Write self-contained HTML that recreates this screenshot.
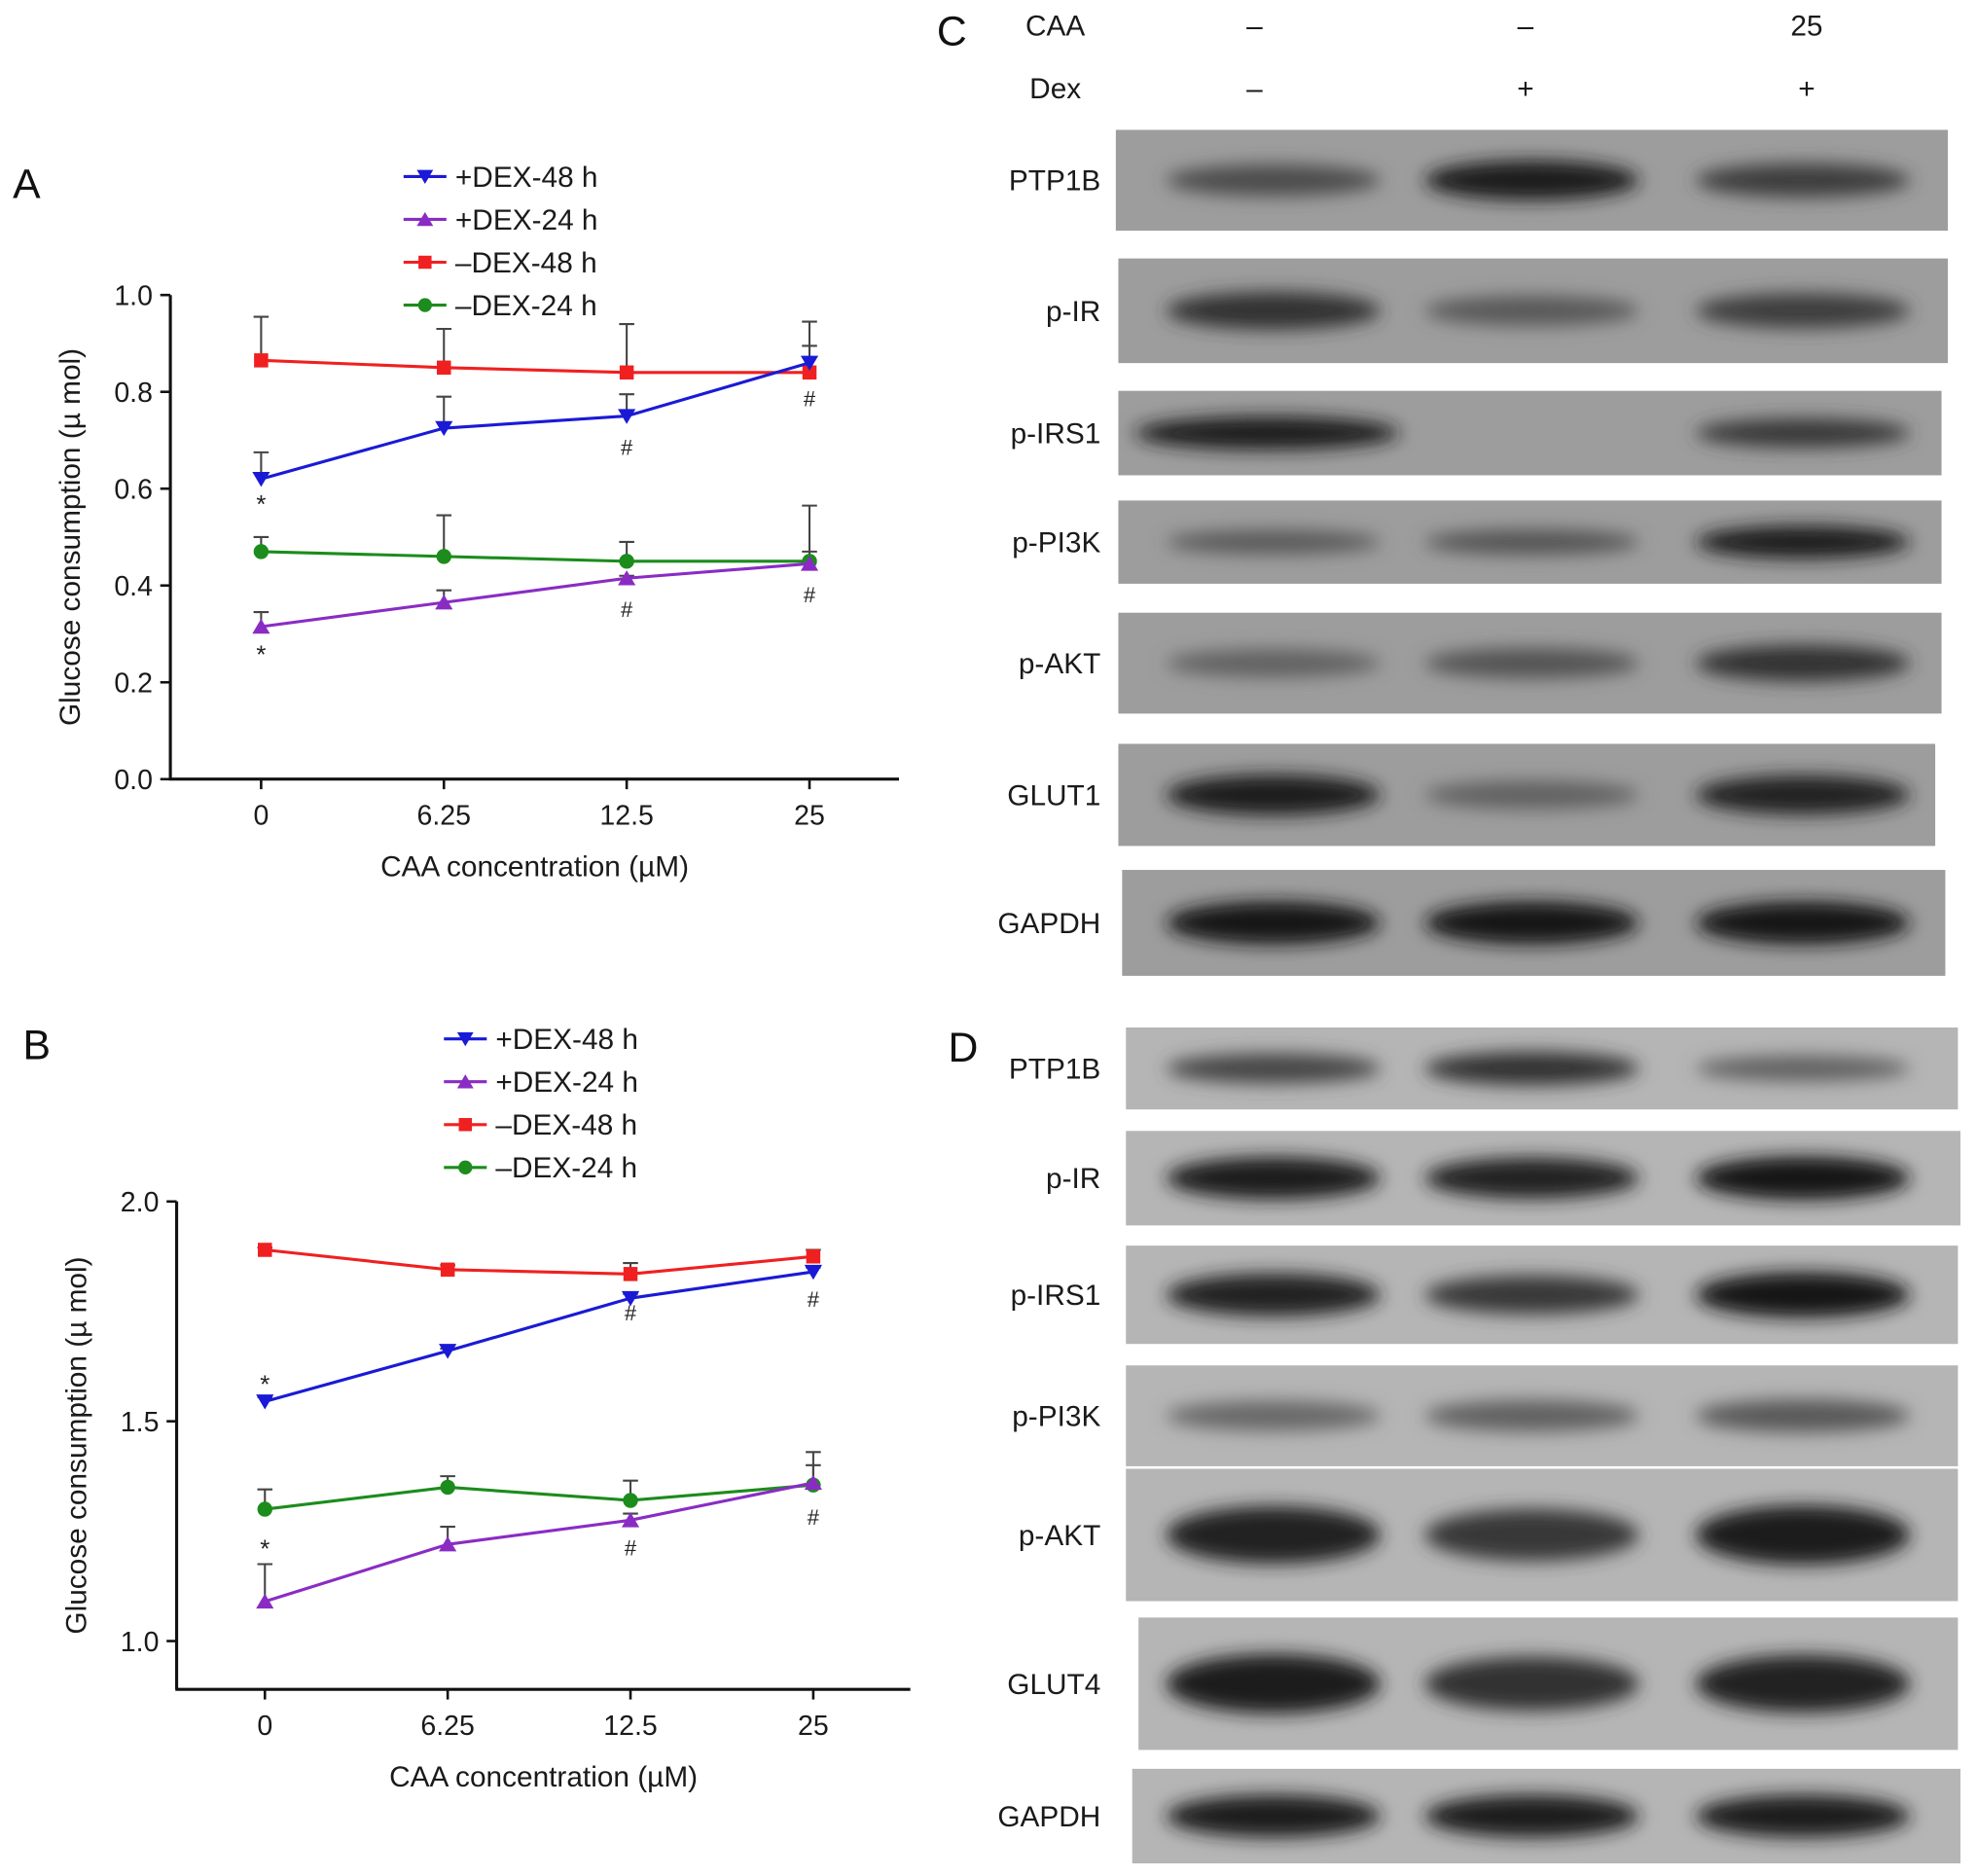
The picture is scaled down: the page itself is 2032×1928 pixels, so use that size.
<!DOCTYPE html>
<html><head><meta charset="utf-8">
<style>
html,body{margin:0;padding:0;background:#fff;}
svg{display:block;font-family:"Liberation Sans",Arial,sans-serif;}
</style></head>
<body>
<svg id="fig" width="2032" height="1928" viewBox="0 0 1568 1488" xmlns="http://www.w3.org/2000/svg">
<defs>
<filter id="blur" x="-30%" y="-100%" width="160%" height="300%"><feGaussianBlur stdDeviation="7"/></filter>
</defs>
<g id="chartA"></g>
<g id="chartB"></g>
<g id="blotC"></g>
<g id="blotD"></g>
</svg>
<script>
const NS="http://www.w3.org/2000/svg";
const categories=["0","6.25","12.5","25"];
const seriesNames=["+DEX-48 h","+DEX-24 h","\u2013DEX-48 h","\u2013DEX-24 h"];
const seriesColors=["#1a1ad6","#8a2cc4","#f02020","#1c8c1c"];
const seriesMarkers=["tri-down","tri-up","square","circle"];
// Panel A values
const aPlus48=[0.62,0.725,0.75,0.86];
const aPlus48Err=[0.675,0.79,0.795,0.895];
const aPlus24=[0.315,0.365,0.415,0.445];
const aPlus24Err=[0.345,0.39,0.42,0.47];
const aMinus48=[0.865,0.85,0.84,0.84];
const aMinus48Err=[0.955,0.93,0.94,0.945];
const aMinus24=[0.47,0.46,0.45,0.45];
const aMinus24Err=[0.5,0.545,0.49,0.565];
const aTicks=[0.0,0.2,0.4,0.6,0.8,1.0];
// Panel B values
const bPlus48=[1.545,1.66,1.78,1.84];
const bPlus48Err=[1.555,1.665,1.79,1.85];
const bPlus24=[1.09,1.22,1.275,1.36];
const bPlus24Err=[1.175,1.26,1.29,1.40];
const bMinus48=[1.89,1.845,1.835,1.875];
const bMinus48Err=[1.895,1.855,1.86,1.89];
const bMinus24=[1.30,1.35,1.32,1.355];
const bMinus24Err=[1.345,1.375,1.365,1.43];
const bTicks=[1.0,1.5,2.0];

function el(tag,attrs,parent,text){
  const e=document.createElementNS(NS,tag);
  for(const k in attrs)e.setAttribute(k,attrs[k]);
  if(text!==undefined)e.textContent=text;
  parent.appendChild(e);return e;
}
function marker(g,type,x,y,color,s){
  let m;
  if(type==="tri-down")m=el("polygon",{points:`${x-s},${y-s*0.8} ${x+s},${y-s*0.8} ${x},${y+s*0.9}`,fill:color},g);
  else if(type==="tri-up")m=el("polygon",{points:`${x-s},${y+s*0.8} ${x+s},${y+s*0.8} ${x},${y-s*0.9}`,fill:color},g);
  else if(type==="square")m=el("rect",{x:x-s*0.8,y:y-s*0.8,width:s*1.6,height:s*1.6,fill:color},g);
  else m=el("circle",{cx:x,cy:y,r:s*0.85,fill:color},g);
  return m;
}
function drawChart(g,cfg){
  const {x0,x1,yTop,yBot,vTop,vBot,tickX,ticks,series,errs,legX,legY,letter,letterPos,stars}=cfg;
  const ys=v=>yBot-(v-vBot)/(vTop-vBot)*(yBot-yTop);
  const xs=i=>tickX[0]+i*(tickX[1]-tickX[0]);
  const lt=el("text",{x:letterPos[0],y:letterPos[1],"font-size":33,fill:"#111"},g,letter);
  
  
  const ya=el("line",{x1:x0,y1:yTop,x2:x0,y2:yBot,stroke:"#111","stroke-width":2.4},g);
  
  
  const xa=el("line",{x1:x0-1,y1:yBot,x2:x1,y2:yBot,stroke:"#111","stroke-width":2.4},g);
  
  
  ticks.forEach(t=>{
    const y=ys(t);
    el("line",{x1:x0-8,y1:y,x2:x0,y2:y,stroke:"#111","stroke-width":2},g);
    const tl=el("text",{x:x0-14,y:y+8,"font-size":22,"text-anchor":"end",fill:"#1a1a1a"},g,t.toFixed(1));
    
    
  });
  categories.forEach((c,i)=>{
    const x=xs(i);
    el("line",{x1:x,y1:yBot,x2:x,y2:yBot+8,stroke:"#111","stroke-width":2},g);
    const tl=el("text",{x:x,y:yBot+36,"font-size":22,"text-anchor":"middle",fill:"#1a1a1a"},g,c);
    
    
  });
  const xt=el("text",{x:(x0+x1)/2,y:yBot+77,"font-size":23,"text-anchor":"middle",fill:"#1a1a1a"},g,"CAA concentration (\u00b5M)");
  
  
  const yt=el("text",{transform:`translate(${x0-72},${(yTop+yBot)/2}) rotate(-90)`,"font-size":23,"text-anchor":"middle",fill:"#1a1a1a"},g,"Glucose consumption (\u00b5 mol)");
  
  
  series.forEach((s,si)=>{
    s.forEach((v,i)=>{
      const x=xs(i),y=ys(v),ye=ys(errs[si][i]);
      const eb=el("path",{d:`M${x},${y}V${ye}M${x-6},${ye}H${x+6}`,stroke:"#444","stroke-width":1.6,fill:"none"},g);
      
      
    });
  });
  [3,2,1,0].forEach(si=>{
    const s=series[si];
    const pl=el("polyline",{points:s.map((v,i)=>`${xs(i)},${ys(v)}`).join(" "),fill:"none",stroke:seriesColors[si],"stroke-width":2.4},g);
    
    
    s.forEach((v,i)=>{
      const m=marker(g,seriesMarkers[si],xs(i),ys(v),seriesColors[si],7);
      
      
    });
  });
  stars.forEach(st=>{
    const a=el("text",{x:xs(st[0]),y:ys(st[1]),"font-size":st[2]==="*"?20:17,"text-anchor":"middle",fill:"#222"},g,st[2]);
    
    
  });
  seriesNames.forEach((n,i)=>{
    const y=legY+i*cfg.legDy;
    const lg=el("g",{},g);
    
    
    el("line",{x1:legX,y1:y,x2:legX+34,y2:y,stroke:seriesColors[i],"stroke-width":2.4},lg);
    marker(lg,seriesMarkers[i],legX+17,y,seriesColors[i],6.5);
    el("text",{x:legX+41,y:y+8,"font-size":23,fill:"#1a1a1a"},lg,n);
  });
}
drawChart(document.getElementById("chartA"),{
  x0:135,x1:713,yTop:234,yBot:618,vTop:1.0,vBot:0.0,tickX:[207,352],ticks:aTicks,
  series:[aPlus48,aPlus24,aMinus48,aMinus24],errs:[aPlus48Err,aPlus24Err,aMinus48Err,aMinus24Err],
  legX:320,legY:140,legDy:34,letter:"A",letterPos:[10,157],
  stars:[[0,0.55,"*"],[0,0.24,"*"],[2,0.67,"#"],[3,0.77,"#"],[2,0.335,"#"],[3,0.365,"#"]]
});
drawChart(document.getElementById("chartB"),{
  x0:140,x1:722,yTop:953,yBot:1340,vTop:2.0,vBot:0.89,tickX:[210,355],ticks:bTicks,
  series:[bPlus48,bPlus24,bMinus48,bMinus24],errs:[bPlus48Err,bPlus24Err,bMinus48Err,bMinus24Err],
  legX:352,legY:824,legDy:34,letter:"B",letterPos:[18,840],
  stars:[[0,1.565,"*"],[0,1.19,"*"],[2,1.73,"#"],[3,1.76,"#"],[2,1.195,"#"],[3,1.265,"#"]]
});

const lanesX=[1000,1215,1430];
const blotCNames=["PTP1B","p-IR","p-IRS1","p-PI3K","p-AKT","GLUT1","GAPDH"];
const blotCBoxes=[[885,103,1545,183],[887,205,1545,288],[887,310,1540,377],[887,397,1540,463],[887,486,1540,566],[887,590,1535,671],[890,690,1543,774]];
const blotCInt=[[0.55,0.9,0.65],[0.75,0.45,0.65],[0.9,0.0,0.7],[0.45,0.5,0.9],[0.4,0.5,0.75],[0.9,0.4,0.85],[0.95,0.95,0.95]];
const blotDNames=["PTP1B","p-IR","p-IRS1","p-PI3K","p-AKT","GLUT4","GAPDH"];
const blotDBoxes=[[893,815,1553,880],[893,897,1555,972],[893,988,1553,1066],[893,1083,1553,1163],[893,1165,1553,1270],[903,1283,1553,1388],[898,1403,1555,1478]];
const blotDInt=[[0.6,0.75,0.4],[0.9,0.85,0.95],[0.85,0.7,0.95],[0.35,0.4,0.45],[0.85,0.7,0.9],[0.9,0.75,0.85],[0.9,0.9,0.9]];

function drawBlot(g,names,boxes,ints,bg,thick){
  names.forEach((n,i)=>{
    const [x1,y1,x2,y2]=boxes[i];
    const strip=el("g",{},g);
    
    
    el("rect",{x:x1,y:y1,width:x2-x1,height:y2-y1,fill:bg},strip);
    const cy=(y1+y2)/2;
    const h=(y2-y1);
    ints[i].forEach((v,li)=>{
      if(v<=0.02)return;
      const gray=Math.round(150-135*v);
      const wide=n==="p-IRS1"&&li===0&&g.id==="blotC";
      const rx=wide?105:85;
      const cx=wide?lanesX[li]+5:lanesX[li]+(li===0?10:0);
      const b=el("ellipse",{cx:cx,cy:cy,rx:rx,ry:Math.max(6,h*thick*(0.3+0.4*v)),fill:`rgb(${gray},${gray},${gray})`,filter:"url(#blur)"},strip);
      
      
    });
    const lb=el("text",{x:873,y:cy+8,"font-size":23,"text-anchor":"end",fill:"#1a1a1a"},g,n);
    
    
  });
}
drawBlot(document.getElementById("blotC"),blotCNames,blotCBoxes,blotCInt,"#9d9d9d",0.3);
drawBlot(document.getElementById("blotD"),blotDNames,blotDBoxes,blotDInt,"#b5b5b5",0.34);

(function(){
  const g=document.getElementById("blotC");
  const c=el("text",{x:743,y:36,"font-size":33,fill:"#111"},g,"C");
  
  
  const hdr=[["CAA",["\u2013","\u2013","25"],28],["Dex",["\u2013","+","+"],78]];
  hdr.forEach(h=>{
    const t=el("text",{x:837,y:h[2],"font-size":23,"text-anchor":"middle",fill:"#1a1a1a"},g,h[0]);
    
    
    h[1].forEach((s,i)=>{
      const tx=[995,1210,1433][i];
      const tt=el("text",{x:tx,y:h[2],"font-size":23,"text-anchor":"middle",fill:"#1a1a1a"},g,s);
      
      
    });
  });
  const gd=document.getElementById("blotD");
  const d=el("text",{x:752,y:842,"font-size":33,fill:"#111"},gd,"D");
  
  
})();
</script>
</body></html>
